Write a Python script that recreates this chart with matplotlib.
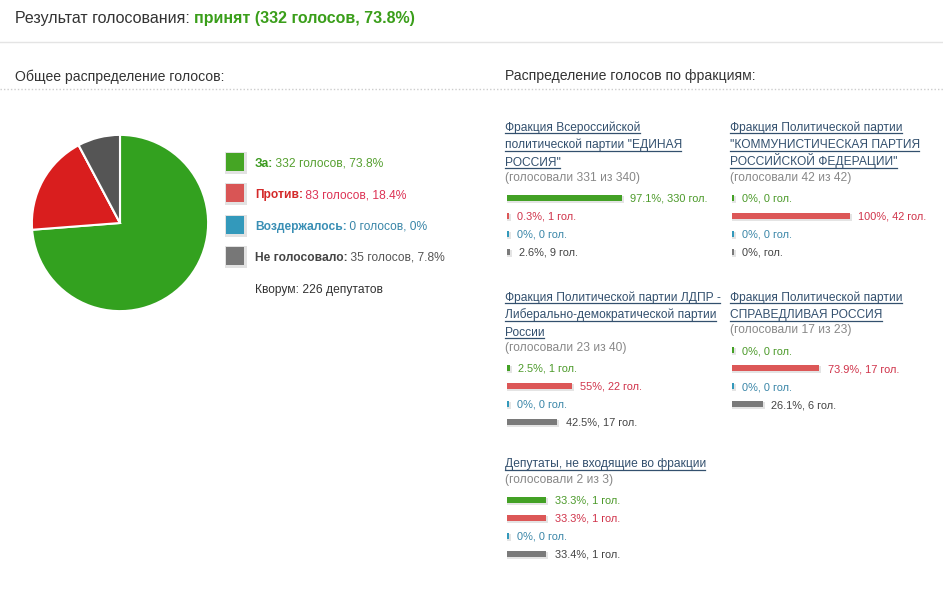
import matplotlib
matplotlib.use("Agg")
import matplotlib.pyplot as plt
from matplotlib.patches import Rectangle
from matplotlib.font_manager import FontProperties

plt.rcParams["font.family"] = ["Liberation Sans", "DejaVu Sans"]

# ---- data ----
RESULT_WORD = "принят"
TOTAL_LABELS = ["За:", "Против:", "Воздержалось:", "Не голосовало:"]
TOTAL_VOTES = [332, 83, 0, 35]
TOTAL_PCT = [73.8, 18.4, 0, 7.8]
QUORUM = 226

FACTION_TITLES = [
    ["Фракция Всероссийской", "политической партии \"ЕДИНАЯ", "РОССИЯ\""],
    ["Фракция Политической партии", "\"КОММУНИСТИЧЕСКАЯ ПАРТИЯ", "РОССИЙСКОЙ ФЕДЕРАЦИИ\""],
    ["Фракция Политической партии ЛДПР -", "Либерально-демократической партии", "России"],
    ["Фракция Политической партии", "СПРАВЕДЛИВАЯ РОССИЯ"],
    ["Депутаты, не входящие во фракции"],
]
FACTION_VOTED = [331, 42, 23, 17, 2]
FACTION_MEMBERS = [340, 42, 40, 23, 3]
# rows: за, против, воздержалось, не голосовало
FACTION_PCT = [
    [97.1, 0.3, 0, 2.6],
    [0, 100, 0, 0],
    [2.5, 55, 0, 42.5],
    [0, 73.9, 0, 26.1],
    [33.3, 33.3, 0, 33.4],
]
FACTION_COUNTS = [
    [330, 1, 0, 9],
    [0, 42, 0, None],
    [1, 22, 0, 17],
    [0, 17, 0, 6],
    [1, 1, 0, 1],
]

# ---- styles / layout ----
W, H = 943, 593
PIE_COLORS = ["#33a11f", "#d91e1e", "#2e95b8", "#555555"]
BOX_COLORS = ["#45a524", "#d95555", "#3399bb", "#777777"]
BOLD_COLORS = ["#3a9a1e", "#d42a2a", "#3a8fb5", "#444444"]
REST_COLORS = ["#56a030", "#dd3355", "#3a86a8", "#555555"]
BAR_COLORS = ["#43a125", "#dc5757", "#3399bb", "#7a7a7a"]
VAL_COLORS = ["#4c9a2a", "#d0334a", "#3a86a8", "#444444"]
LINK = "#33506e"
PX = 0.72  # px -> pt at dpi 100
BAR_SCALE = 1.18  # px per percent
BLOCKS = [(505, 130.5), (730, 130.5), (505, 300.5), (730, 300.5), (505, 467.5)]

fig = plt.figure(figsize=(W / 100, H / 100), dpi=100)
ax = fig.add_axes([0, 0, 1, 1])
ax.set_xlim(0, W); ax.set_ylim(H, 0); ax.axis("off")
rend = fig.canvas.get_renderer()


def width(s, size, weight="normal"):
    fp = FontProperties(family=["Liberation Sans", "DejaVu Sans"], size=size * PX, weight=weight)
    a = rend.get_text_width_height_descent(s + "|", fp, ismath=False)[0]
    b = rend.get_text_width_height_descent("|", fp, ismath=False)[0]
    return a - b - 0.8


def parts(x, y, segs, size):
    for s, color, weight in segs:
        ax.text(x, y, s, fontsize=size * PX, color=color, fontweight=weight, va="baseline", ha="left")
        x += width(s, size, weight)


# header
parts(15, 23, [("Результат голосования: ", "#333333", "normal"),
               ("%s (%d голосов, %.1f%%)" % (RESULT_WORD, TOTAL_VOTES[0], TOTAL_PCT[0]), "#3a9e1a", "bold")], 16)
ax.plot([0, W], [42, 42], color="#e4e4e4", lw=1)
ax.text(15, 81, "Общее распределение голосов:", fontsize=14 * PX, color="#333333", va="baseline")
ax.text(505, 80, "Распределение голосов по фракциям:", fontsize=14 * PX, color="#333333", va="baseline")
ax.plot([0, W], [88.5, 88.5], color="#cccccc", lw=1, ls=(0, (1, 1.5)))

# pie
pax = fig.add_axes([31 / W, 1 - 312 / H, 178 / W, 178 / H])
pax.pie(TOTAL_VOTES, colors=PIE_COLORS, startangle=90, counterclock=False,
        wedgeprops=dict(edgecolor="white", linewidth=1.5))
pax.set_xlim(-1.01, 1.01); pax.set_ylim(-1.01, 1.01); pax.set_aspect("equal")

# legend
for i, (lab, v, p) in enumerate(zip(TOTAL_LABELS, TOTAL_VOTES, TOTAL_PCT)):
    cy = 162 + i * 31.3
    ax.add_patch(Rectangle((224.5, cy - 10), 22, 22, color="#e2e2e2", lw=0))
    ax.add_patch(Rectangle((226, cy - 9), 18, 18, color=BOX_COLORS[i], lw=0))
    parts(255, cy + 5, [(lab, BOLD_COLORS[i], "bold"),
                        (" %d голосов, %g%%" % (v, p), REST_COLORS[i], "normal")], 12)
ax.text(255, 293, "Кворум: %d депутатов" % QUORUM, fontsize=12 * PX, color="#333333", va="baseline")

# faction blocks
for (bx, by), titles, voted, members, pcts, counts in zip(
        BLOCKS, FACTION_TITLES, FACTION_VOTED, FACTION_MEMBERS, FACTION_PCT, FACTION_COUNTS):
    y = by
    for k, line in enumerate(titles):
        y = by + k * 17.5
        ax.text(bx, y, line, fontsize=12 * PX, color=LINK, va="baseline")
        ax.plot([bx, bx + width(line, 12)], [y + 2.5, y + 2.5], color=LINK, lw=0.9)
    y += 15.5
    ax.text(bx, y, "(голосовали %d из %d)" % (voted, members), fontsize=12 * PX, color="#888888", va="baseline")
    y += 20.5
    x0 = bx + 2
    for j, (p, c) in enumerate(zip(pcts, counts)):
        ry = y + j * 18
        bc = ry - 4
        w = max(p * BAR_SCALE, 1.8)
        ax.barh(bc + 1.5, w + 2.5, left=x0 - 0.5, height=7, color="#e4e4e4", lw=0)
        ax.barh(bc, w, left=x0, height=6, color=BAR_COLORS[j], lw=0)
        lab = "%g%%, %s" % (p, "гол." if c is None else "%d гол." % c)
        ax.text(x0 + w + 8.5, ry, lab, fontsize=11 * PX, color=VAL_COLORS[j], va="baseline")

fig.savefig("out.png", dpi=100)
